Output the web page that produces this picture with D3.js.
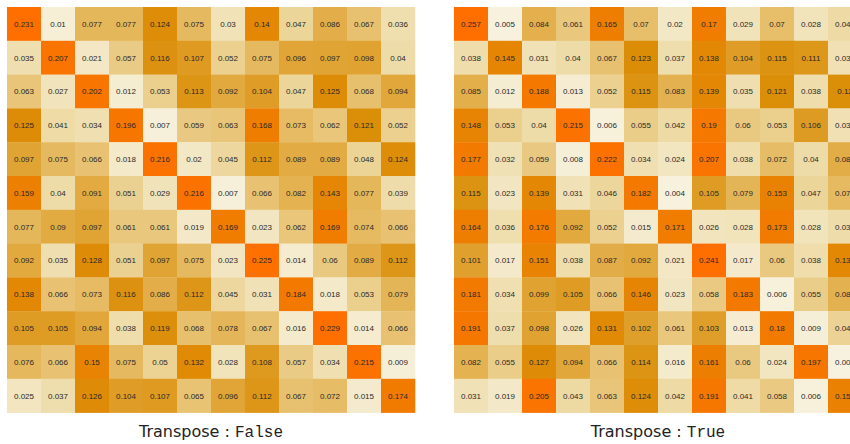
<!DOCTYPE html>
<html>
<head>
<meta charset="utf-8">
<script src="https://cdn.jsdelivr.net/npm/d3@7"></script>
<style>
  body { margin: 0; background: #fff; }
  svg { display: block; }
  .cell-label { font-family: "Liberation Sans", Arial, sans-serif; font-size: 8px; fill: #2a2a2a; }
  .caption { font-family: "DejaVu Sans", sans-serif; font-size: 16px; fill: #222; }
  .caption .mono { font-family: "Liberation Mono", "Courier New", monospace; }
</style>
</head>
<body>
<svg id="chart" width="850" height="444"></svg>
<script>
// transpose : False
const matrixFalse = [
  [0.231, 0.01, 0.077, 0.077, 0.124, 0.075, 0.03, 0.14, 0.047, 0.086, 0.067, 0.036],
  [0.035, 0.207, 0.021, 0.057, 0.116, 0.107, 0.052, 0.075, 0.096, 0.097, 0.098, 0.04],
  [0.063, 0.027, 0.202, 0.012, 0.053, 0.113, 0.092, 0.104, 0.047, 0.125, 0.068, 0.094],
  [0.125, 0.041, 0.034, 0.196, 0.007, 0.059, 0.063, 0.168, 0.073, 0.062, 0.121, 0.052],
  [0.097, 0.075, 0.066, 0.018, 0.216, 0.02, 0.045, 0.112, 0.089, 0.089, 0.048, 0.124],
  [0.159, 0.04, 0.091, 0.051, 0.029, 0.216, 0.007, 0.066, 0.082, 0.143, 0.077, 0.039],
  [0.077, 0.09, 0.097, 0.061, 0.061, 0.019, 0.169, 0.023, 0.062, 0.169, 0.074, 0.066],
  [0.092, 0.035, 0.128, 0.051, 0.097, 0.075, 0.023, 0.225, 0.014, 0.06, 0.089, 0.112],
  [0.138, 0.066, 0.073, 0.116, 0.086, 0.112, 0.045, 0.031, 0.184, 0.018, 0.053, 0.079],
  [0.105, 0.105, 0.094, 0.038, 0.119, 0.068, 0.078, 0.067, 0.016, 0.229, 0.014, 0.066],
  [0.076, 0.066, 0.15, 0.075, 0.05, 0.132, 0.028, 0.108, 0.057, 0.034, 0.215, 0.009],
  [0.025, 0.037, 0.126, 0.104, 0.107, 0.065, 0.096, 0.112, 0.067, 0.072, 0.015, 0.174]
];

// transpose : True
const matrixTrue = [
  [0.257, 0.005, 0.084, 0.061, 0.165, 0.07, 0.02, 0.17, 0.029, 0.07, 0.028, 0.042],
  [0.038, 0.145, 0.031, 0.04, 0.067, 0.123, 0.037, 0.138, 0.104, 0.115, 0.111, 0.033],
  [0.085, 0.012, 0.188, 0.013, 0.052, 0.115, 0.083, 0.139, 0.035, 0.121, 0.038, 0.12],
  [0.148, 0.053, 0.04, 0.215, 0.006, 0.055, 0.042, 0.19, 0.06, 0.053, 0.106, 0.033],
  [0.177, 0.032, 0.059, 0.008, 0.222, 0.034, 0.024, 0.207, 0.038, 0.072, 0.04, 0.088],
  [0.115, 0.023, 0.139, 0.031, 0.046, 0.182, 0.004, 0.105, 0.079, 0.153, 0.047, 0.074],
  [0.164, 0.036, 0.176, 0.092, 0.052, 0.015, 0.171, 0.026, 0.028, 0.173, 0.028, 0.039],
  [0.101, 0.017, 0.151, 0.038, 0.087, 0.092, 0.021, 0.241, 0.017, 0.06, 0.038, 0.137],
  [0.181, 0.034, 0.099, 0.105, 0.066, 0.146, 0.023, 0.058, 0.183, 0.006, 0.055, 0.083],
  [0.191, 0.037, 0.098, 0.026, 0.131, 0.102, 0.061, 0.103, 0.013, 0.18, 0.009, 0.049],
  [0.082, 0.055, 0.127, 0.094, 0.066, 0.114, 0.016, 0.161, 0.06, 0.024, 0.197, 0.003],
  [0.031, 0.019, 0.205, 0.043, 0.063, 0.124, 0.042, 0.191, 0.041, 0.058, 0.006, 0.157]
];

const panelLabels = ["False", "True"];

const colorStops = [0, 0.04, 0.08, 0.12, 0.17, 0.23];
const colorRange = ["#f8f4e4", "#eedca8", "#e4b455", "#db8e08", "#f07c00", "#ff6f00"];

const color = d3.scaleLinear().domain(colorStops).range(colorRange).clamp(true);

const svg = d3.select("#chart");
const cellW = 34, cellH = 33.8;
const panels = [
  {data: matrixFalse, x0: 7, y0: 7, label: panelLabels[0]},
  {data: matrixTrue, x0: 454, y0: 7, label: panelLabels[1]}
];

panels.forEach(p => {
    const n = p.data.length;
    const xs = d3.scaleBand().domain(d3.range(n)).range([0, cellW * n]);
    const ys = d3.scaleBand().domain(d3.range(n)).range([0, cellH * n]);

    const cells = p.data.flatMap((row, r) => row.map((v, c) => ({r, c, v})));

    const g = svg.append("g").attr("transform", `translate(${p.x0},${p.y0})`);

    g.selectAll("rect")
        .data(cells)
        .enter()
        .append("rect")
        .attr("x", d => xs(d.c))
        .attr("y", d => ys(d.r))
        .attr("width", xs.bandwidth() + 0.3)
        .attr("height", ys.bandwidth() + 0.3)
        .attr("fill", d => color(d.v));

    g.selectAll("text")
        .data(cells)
        .enter()
        .append("text")
        .attr("class", "cell-label")
        .attr("x", d => xs(d.c) + xs.bandwidth() / 2)
        .attr("y", d => ys(d.r) + ys.bandwidth() / 2)
        .attr("dy", "0.35em")
        .attr("text-anchor", "middle")
        .text(d => d.v);

    const cap = svg.append("text")
        .attr("class", "caption")
        .attr("x", p.x0 + cellW * n / 2)
        .attr("y", 437)
        .attr("text-anchor", "middle");
    cap.append("tspan").text("Transpose : ");
    cap.append("tspan").attr("class", "mono").text(p.label);
});
</script>
</body>
</html>
